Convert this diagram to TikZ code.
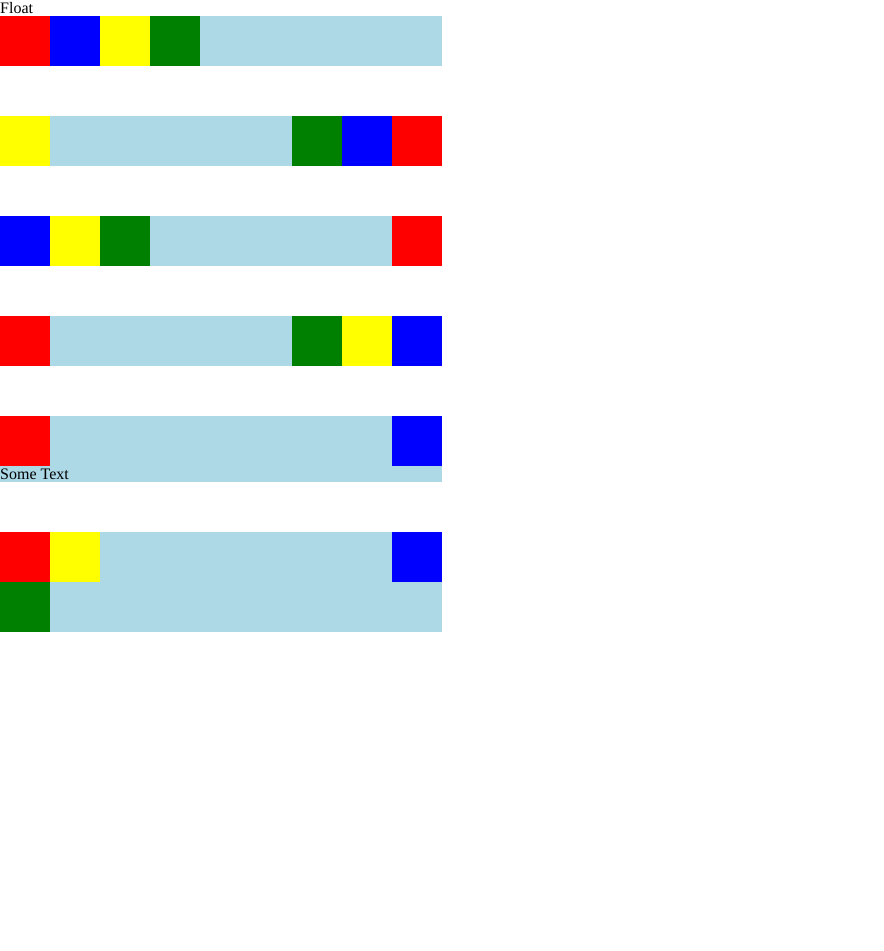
\documentclass[tikz,border=0pt]{standalone}
\usepackage{fontspec}
\setmainfont{Liberation Serif}
\usetikzlibrary{positioning}
\definecolor{floatRed}{HTML}{FF0000}
\definecolor{floatBlue}{HTML}{0000FF}
\definecolor{floatYellow}{HTML}{FFFF00}
\definecolor{floatGreen}{HTML}{008000}
\definecolor{floatLightBlue}{HTML}{ADD8E6}
\tikzset{
  sq/.style={fill=#1, minimum size=50pt, inner sep=0pt, outer sep=0pt, anchor=north west},
  bar/.style={fill=floatLightBlue, draw=none},
  lbl/.style={inner sep=0pt, anchor=base west, font=\fontsize{16}{19}\selectfont}
}
\begin{document}
\begin{tikzpicture}[x=1pt, y=-1pt]
    \useasboundingbox[fill=white] (0,0) rectangle (884,951);
    \node[lbl] (title) at (0,13) {Float};
    % row 1
    \fill[bar] (0,16) rectangle (442,66);
    \node[sq=floatRed] (r1a) at (0,16) {};
    \node[sq=floatBlue, right=0pt of r1a.north east, anchor=north west] (r1b) {};
    \node[sq=floatYellow, right=0pt of r1b.north east, anchor=north west] (r1c) {};
    \node[sq=floatGreen, right=0pt of r1c.north east, anchor=north west] (r1d) {};
    % row 2
    \fill[bar] (0,116) rectangle (442,166);
    \node[sq=floatYellow] (r2a) at (0,116) {};
    \node[sq=floatRed] (r2d) at (392,116) {};
    \node[sq=floatBlue, left=0pt of r2d.north west, anchor=north east] (r2c) {};
    \node[sq=floatGreen, left=0pt of r2c.north west, anchor=north east] (r2b) {};
    % row 3
    \fill[bar] (0,216) rectangle (442,266);
    \node[sq=floatBlue] (r3a) at (0,216) {};
    \node[sq=floatYellow, right=0pt of r3a.north east, anchor=north west] (r3b) {};
    \node[sq=floatGreen, right=0pt of r3b.north east, anchor=north west] (r3c) {};
    \node[sq=floatRed] (r3d) at (392,216) {};
    % row 4
    \fill[bar] (0,316) rectangle (442,366);
    \node[sq=floatRed] (r4a) at (0,316) {};
    \node[sq=floatBlue] (r4d) at (392,316) {};
    \node[sq=floatYellow, left=0pt of r4d.north west, anchor=north east] (r4c) {};
    \node[sq=floatGreen, left=0pt of r4c.north west, anchor=north east] (r4b) {};
    % row 5
    \fill[bar] (0,416) rectangle (442,482);
    \node[sq=floatRed] (r5a) at (0,416) {};
    \node[sq=floatBlue] (r5b) at (392,416) {};
    \node[lbl] (some) at (0,479) {Some Text};
    % row 6
    \fill[bar] (0,532) rectangle (442,632);
    \node[sq=floatRed] (r6a) at (0,532) {};
    \node[sq=floatYellow, right=0pt of r6a.north east, anchor=north west] (r6b) {};
    \node[sq=floatBlue] (r6c) at (392,532) {};
    \node[sq=floatGreen, below=0pt of r6a.south west, anchor=north west] (r6d) {};
\end{tikzpicture}
\end{document}
